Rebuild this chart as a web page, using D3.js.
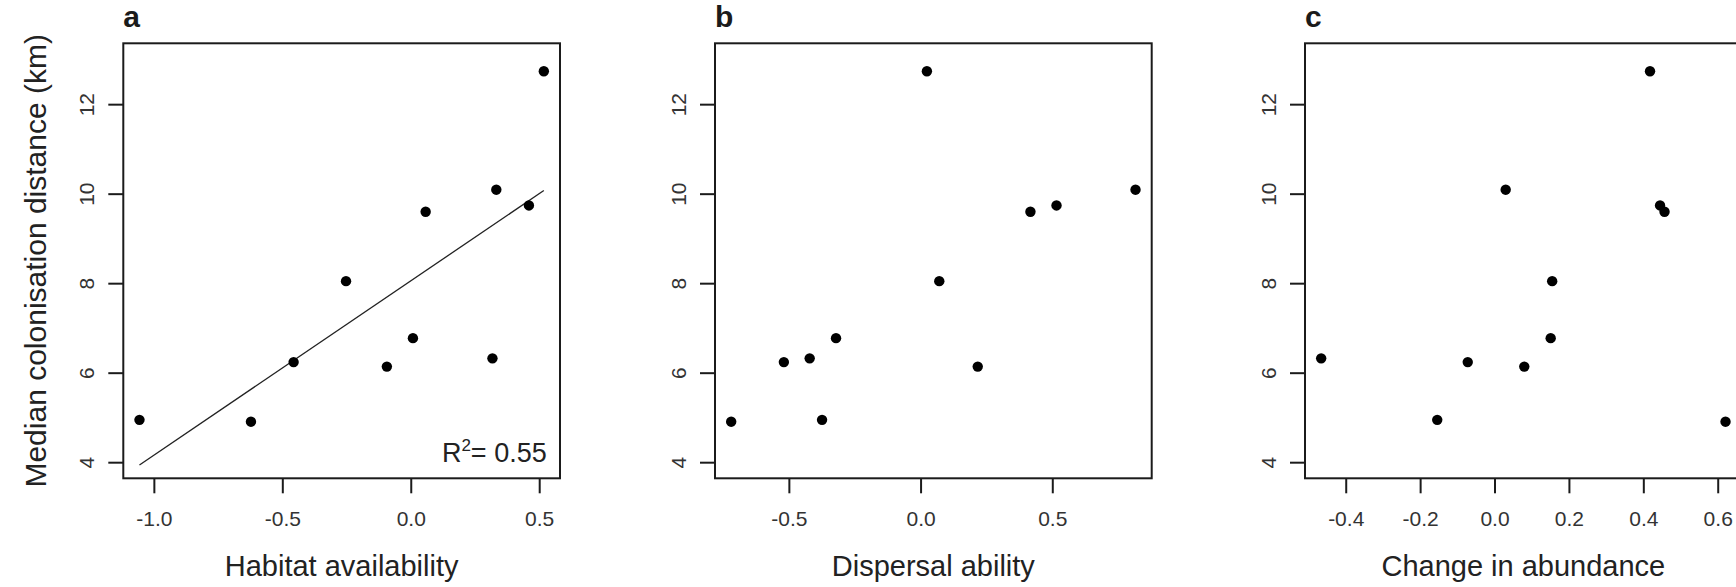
<!DOCTYPE html>
<html>
<head>
<meta charset="utf-8">
<script src="https://cdn.jsdelivr.net/npm/d3@7"></script>
<style>
  html, body { margin: 0; padding: 0; background: #fff; }
  svg { display: block; }
  text { font-family: "Liberation Sans", Arial, sans-serif; }
</style>
</head>
<body>
<svg id="chart" width="1736" height="587"></svg>
<script>
// ---- data (species in the same order across panels) ----
const colonisationDistance = [4.946, 4.905, 6.236, 8.045, 6.136, 6.772, 9.595, 6.320, 10.089, 9.737, 12.735];
const habitatAvailability  = [-1.056, -0.622, -0.456, -0.252, -0.093, 0.0085, 0.058, 0.318, 0.333, 0.460, 0.518];
const dispersalAbility     = [-0.374, -0.719, -0.519, 0.071, 0.217, -0.321, 0.417, -0.421, 0.816, 0.516, 0.024];
const changeInAbundance    = [-0.154, 0.621, -0.072, 0.155, 0.080, 0.151, 0.457, -0.466, 0.030, 0.445, 0.418];

const panelLetters = ["a", "b", "c"];
const xLabels = ["Habitat availability", "Dispersal ability", "Change in abundance"];
const yLabel = "Median colonisation distance (km)";
const yLimits = [4, 13];
const yTicks = [4, 6, 8, 10, 12];
const xTicksA = [-1.0, -0.5, 0.0, 0.5];
const xTicksB = [-0.5, 0.0, 0.5];
const xTicksC = [-0.4, -0.2, 0.0, 0.2, 0.4, 0.6];
const rSquaredLabel = "0.55";

const panels = [
  { letter: panelLetters[0], x: habitatAvailability, ticks: xTicksA, label: xLabels[0], fit: true },
  { letter: panelLetters[1], x: dispersalAbility,    ticks: xTicksB, label: xLabels[1], fit: false },
  { letter: panelLetters[2], x: changeInAbundance,   ticks: xTicksC, label: xLabels[2], fit: false }
];

// ---- layout ----
const svg = d3.select("#chart");
const boxW = 436.7, boxH = 435;
const boxTop = 43.3;
const boxLefts = [123.3, 715, 1305];
const tickLen = 15;
const ink = "#1b1b1b";

// R-style 4% padding
function pad(ext) { const r = ext[1] - ext[0]; return [ext[0] - 0.04 * r, ext[1] + 0.04 * r]; }

const yScale = d3.scaleLinear().domain(pad(yLimits)).range([boxTop + boxH, boxTop]);

panels.forEach((p, i) => {
  const left = boxLefts[i];
  const g = svg.append("g");
  const xScale = d3.scaleLinear().domain(pad(d3.extent(p.x))).range([left, left + boxW]);

  // box
  g.append("rect")
    .attr("x", left).attr("y", boxTop).attr("width", boxW).attr("height", boxH)
    .attr("fill", "none").attr("stroke", ink).attr("stroke-width", 2);

  // x axis
  const xAxis = d3.axisBottom(xScale).tickValues(p.ticks)
    .tickFormat(d3.format(".1f")).tickSize(tickLen).tickPadding(0);
  const gx = g.append("g").attr("transform", `translate(0,${boxTop + boxH})`).call(xAxis);
  gx.select(".domain").remove();
  gx.selectAll(".tick line").attr("stroke", ink).attr("stroke-width", 2);
  gx.selectAll(".tick text")
    .text(d => d3.format(".1f")(d).replace("−", "-"))
    .attr("y", 48).attr("dy", 0)
    .attr("font-size", 21).attr("fill", "#333");

  // y axis
  const yAxis = d3.axisLeft(yScale).tickValues(yTicks).tickSize(tickLen).tickPadding(0);
  const gy = g.append("g").attr("transform", `translate(${left},0)`).call(yAxis);
  gy.select(".domain").remove();
  gy.selectAll(".tick line").attr("stroke", ink).attr("stroke-width", 2);
  gy.selectAll(".tick text")
    .attr("x", 0).attr("dy", 0)
    .attr("transform", "translate(-29,0) rotate(-90)")
    .attr("text-anchor", "middle")
    .attr("font-size", 21).attr("fill", "#333");

  // panel letter
  g.append("text").attr("x", left).attr("y", 27)
    .attr("font-size", 30).attr("font-weight", "bold").attr("fill", ink)
    .text(p.letter);

  // x label
  g.append("text").attr("x", left + boxW / 2).attr("y", 576)
    .attr("text-anchor", "middle").attr("font-size", 29).attr("fill", "#222")
    .text(p.label);

  // regression line (least squares computed from the data)
  if (p.fit) {
    const pts = p.x.map((v, k) => [v, colonisationDistance[k]]);
    const mx = d3.mean(pts, d => d[0]), my = d3.mean(pts, d => d[1]);
    const sxy = d3.sum(pts, d => (d[0] - mx) * (d[1] - my));
    const sxx = d3.sum(pts, d => (d[0] - mx) ** 2);
    const slope = sxy / sxx, icpt = my - slope * mx;
    const ext = d3.extent(p.x);
    const linePts = ext.map(v => [xScale(v), yScale(icpt + slope * v)]);
    g.append("path").attr("d", d3.line()(linePts))
      .attr("fill", "none").attr("stroke", "#222").attr("stroke-width", 1.3);

    const t = g.append("text").attr("x", left + boxW - 13.3).attr("y", 461.7)
      .attr("text-anchor", "end").attr("font-size", 27).attr("fill", "#222");
    t.append("tspan").text("R");
    t.append("tspan").attr("font-size", 17).attr("dy", -11).text("2");
    t.append("tspan").attr("dy", 11).text("= " + rSquaredLabel);
  }

  // points
  g.selectAll("circle.pt").data(p.x.map((v, k) => ({ x: v, y: colonisationDistance[k] })))
    .join("circle").attr("class", "pt")
    .attr("cx", d => xScale(d.x)).attr("cy", d => yScale(d.y))
    .attr("r", 5.2).attr("fill", "#000");
});

// y label (only on first panel)
svg.append("text")
  .attr("transform", `translate(46,${boxTop + boxH / 2}) rotate(-90)`)
  .attr("text-anchor", "middle").attr("font-size", 30).attr("fill", "#222")
  .text(yLabel);
</script>
</body>
</html>
